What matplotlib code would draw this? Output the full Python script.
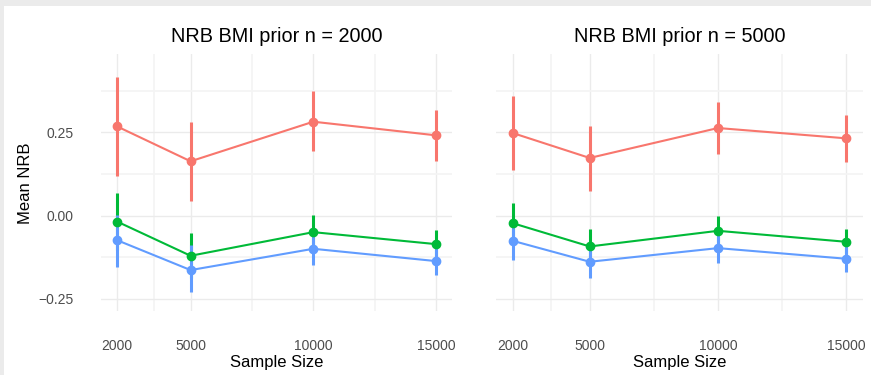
import matplotlib
matplotlib.use("Agg")
import matplotlib.pyplot as plt
from matplotlib.patches import Rectangle
import numpy as np

sample_sizes = [2000, 5000, 10000, 15000]
titles = ["NRB BMI prior n = 2000", "NRB BMI prior n = 5000"]

# Panel 1 (prior n = 2000)
p1_red_mean = [0.268, 0.163, 0.282, 0.241]
p1_red_lo = [0.120, 0.043, 0.193, 0.163]
p1_red_hi = [0.417, 0.280, 0.373, 0.318]
p1_green_mean = [-0.018, -0.121, -0.050, -0.086]
p1_green_lo = [-0.103, -0.189, -0.102, -0.129]
p1_green_hi = [0.067, -0.053, 0.002, -0.043]
p1_blue_mean = [-0.074, -0.164, -0.100, -0.137]
p1_blue_lo = [-0.154, -0.229, -0.149, -0.179]
p1_blue_hi = [0.002, -0.088, -0.046, -0.095]

# Panel 2 (prior n = 5000)
p2_red_mean = [0.248, 0.173, 0.263, 0.232]
p2_red_lo = [0.136, 0.074, 0.185, 0.160]
p2_red_hi = [0.358, 0.270, 0.342, 0.303]
p2_green_mean = [-0.023, -0.093, -0.046, -0.079]
p2_green_lo = [-0.083, -0.145, -0.091, -0.117]
p2_green_hi = [0.037, -0.041, -0.001, -0.041]
p2_blue_mean = [-0.076, -0.139, -0.098, -0.130]
p2_blue_lo = [-0.133, -0.189, -0.142, -0.169]
p2_blue_hi = [-0.019, -0.089, -0.054, -0.091]

colors = ["#F8766D", "#00BA38", "#619CFF"]

panels = [
    [(p1_red_mean, p1_red_lo, p1_red_hi), (p1_green_mean, p1_green_lo, p1_green_hi),
     (p1_blue_mean, p1_blue_lo, p1_blue_hi)],
    [(p2_red_mean, p2_red_lo, p2_red_hi), (p2_green_mean, p2_green_lo, p2_green_hi),
     (p2_blue_mean, p2_blue_lo, p2_blue_hi)],
]

plt.rcParams['font.family'] = ['Liberation Sans', 'DejaVu Sans']

W, H = 871, 375
fig = plt.figure(figsize=(W / 100, H / 100), dpi=100)
fig.patch.set_facecolor("white")
# grey screenshot border (top and left)
fig.patches.append(Rectangle((0, 1 - 6 / H), 1, 6 / H, transform=fig.transFigure,
                             facecolor="#EBEBEB", edgecolor="none", zorder=0))
fig.patches.append(Rectangle((0, 0), 4 / W, 1, transform=fig.transFigure,
                             facecolor="#EBEBEB", edgecolor="none", zorder=0))

ax_boxes = [(101, 452), (496, 863)]
top_px, bot_px = 54, 311
grid_col = "#EBEBEB"

for i, (box, series, title) in enumerate(zip(ax_boxes, panels, titles)):
    l, r = box
    ax = fig.add_axes([l / W, 1 - bot_px / H, (r - l) / W, (bot_px - top_px) / H])
    ax.set_facecolor("white")
    for s in ax.spines.values():
        s.set_visible(False)
    ax.set_xlim(1350, 15650)
    ax.set_ylim(-0.287, 0.4855)
    ax.set_xticks(sample_sizes)
    ax.set_xticks([3500, 7500, 12500], minor=True)
    ax.set_yticks([-0.25, 0.0, 0.25])
    ax.set_yticks([-0.125, 0.125, 0.375], minor=True)
    ax.grid(True, which="major", color=grid_col, lw=1.0, zorder=0)
    ax.grid(True, which="minor", color="#F4F4F4", lw=1.2, zorder=0)
    ax.tick_params(which="both", length=0)
    ax.tick_params(axis="x", labelsize=10, labelcolor="#4D4D4D", pad=20)
    ax.tick_params(axis="y", labelsize=10, labelcolor="#4D4D4D", pad=20)
    if i == 0:
        ax.set_yticklabels(["\u22120.25", "0.00", "0.25"])
        fig.text(26 / W, 1 - 183 / H, "Mean NRB", fontsize=12, rotation=90,
                 ha="center", va="center")
    else:
        ax.set_yticklabels([])
    ax.set_xticklabels([str(s) for s in sample_sizes])
    fig.text((l + r) / 2 / W, 1 - 363 / H, "Sample Size", fontsize=12,
             ha="center", va="center")
    ax.set_title(title, fontsize=14.3, pad=9)
    for (mean, lo, hi), c in zip(series, colors):
        m = np.array(mean)
        ax.vlines(sample_sizes, lo, hi, color=c, lw=2.2, zorder=3)
        ax.plot(sample_sizes, m, color=c, lw=1.5, zorder=3)
        ax.plot(sample_sizes, m, 'o', color=c, ms=6, zorder=4)

fig.savefig("out.png", dpi=100)
